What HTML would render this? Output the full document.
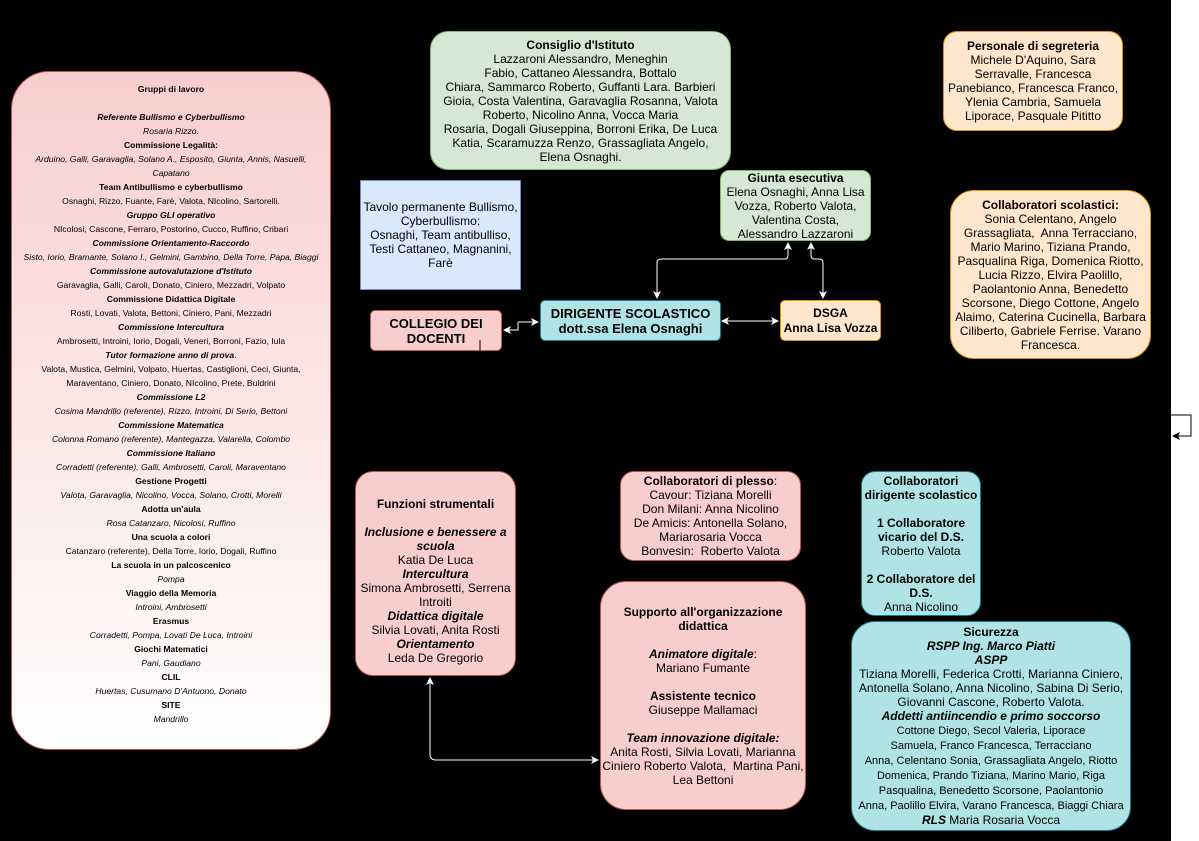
<!DOCTYPE html>
<html><head><meta charset="utf-8">
<style>
html,body{margin:0;padding:0}
body{width:1199px;height:841px;position:relative;background:#fff;overflow:hidden;font-family:"Liberation Sans",Arial,sans-serif;color:#000}
#bg{position:absolute;left:0;top:0;width:1171px;height:841px;background:#000}
.b{position:absolute;box-sizing:border-box;display:flex;align-items:center;justify-content:center;text-align:center;font-size:12px;line-height:14px}
.red{background:#f8cecc;border:1px solid #b85450}
.grn{background:#d5e8d4;border:1px solid #82b366}
.blu{background:#dae8fc;border:1px solid #6c8ebf}
.cy{background:#b0e3e6;border:1px solid #0e8088}
.or{background:#ffe6cc;border:1px solid #d79b00}
#gl{position:absolute;left:11px;top:71px;width:320px;height:679px;border:1px solid #b85450;border-radius:38px;background:linear-gradient(#f8cecc,#fff);box-sizing:border-box;text-align:center;font-size:8.6px;line-height:14px;padding-top:10px}
svg{position:absolute;left:0;top:0}
</style></head><body>
<div id="bg"></div>

<div id="gl"><b>Gruppi di lavoro</b><br><br>
<b><i>Referente Bullismo e Cyberbullismo</i></b><br><i>Rosaria Rizzo.</i><br>
<b>Commissione Legalità:</b><br><i>Arduino, Galli, Garavaglia, Solano A., Esposito, Giunta, Annis, Nasuelli,<br>Capatano</i><br>
<b>Team Antibullismo e cyberbullismo</b><br>Osnaghi, Rizzo, Fuante, Farè, Valota, NIcolino, Sartorelli.<br>
<b><i>Gruppo GLI operativo</i></b><br>NIcolosi, Cascone, Ferraro, Postorino, Cucco, Ruffino, Cribari<br>
<b><i>Commissione Orientamento-Raccordo</i></b><br><i>Sisto, Iorio, Bramante, Solano I., Gelmini, Gambino, Della Torre, Papa, Biaggi</i><br>
<b><i>Commissione autovalutazione d'Istituto</i></b><br>Garavaglia, Galli, Caroli, Donato, Ciniero, Mezzadri, Volpato<br>
<b>Commissione Didattica Digitale</b><br>Rosti, Lovati, Valota, Bettoni, Ciniero, Pani, Mezzadri<br>
<b><i>Commissione Intercultura</i></b><br>Ambrosetti, Introini, Iorio, Dogali, Veneri, Borroni, Fazio, Iula<br>
<b><i>Tutor formazione anno di prova</i></b>.<br>Valota, Mustica, Gelmini, Volpato, Huertas, Castiglioni, Ceci, Giunta,<br>Maraventano, Ciniero, Donato, NIcolino, Prete, Buldrini<br>
<b><i>Commissione L2</i></b><br><i>Cosima Mandrillo (referente), Rizzo, Introini, Di Serio, Bettoni</i><br>
<b><i>Commissione Matematica</i></b><br><i>Colonna Romano (referente), Mantegazza, Valarella, Colombo</i><br>
<b><i>Commissione Italiano</i></b><br><i>Corradetti (referente), Galli, Ambrosetti, Caroli, Maraventano</i><br>
<b>Gestione Progetti</b><br><i>Valota, Garavaglia, Nicolino, Vocca, Solano, Crotti, Morelli</i><br>
<b>Adotta un'aula</b><br><i>Rosa Catanzaro, Nicolosi, Ruffino</i><br>
<b>Una scuola a colori</b><br>Catanzaro (referente), Della Torre, Iorio, Dogali, Ruffino<br>
<b>La scuola in un palcoscenico</b><br><i>Pompa</i><br>
<b>Viaggio della Memoria</b><br><i>Introini, Ambrosetti</i><br>
<b>Erasmus</b><br><i>Corradetti, Pompa, Lovati De Luca, Introini</i><br>
<b>Giochi Matematici</b><br><i>Pani, Gaudiano</i><br>
<b>CLIL</b><br><i>Huertas, Cusumano D'Antuono, Donato</i><br>
<b>SITE</b><br><i>Mandrillo</i>
</div>

<div class="b grn" style="left:430px;top:31px;width:301px;height:139px;border-radius:18px"><div><b>Consiglio d'Istituto</b><br>Lazzaroni Alessandro, Meneghin<br>Fabio, Cattaneo Alessandra, Bottalo<br>Chiara, Sammarco Roberto, Guffanti Lara. Barbieri<br>Gioia, Costa Valentina, Garavaglia Rosanna, Valota<br>Roberto, Nicolino Anna, Vocca Maria<br>Rosaria, Dogali Giuseppina, Borroni Erika, De Luca<br>Katia, Scaramuzza Renzo, Grassagliata Angelo,<br>Elena Osnaghi.</div></div>

<div class="b or" style="left:943px;top:31px;width:180px;height:100px;border-radius:14px"><div><b>Personale di segreteria</b><br>Michele D'Aquino, Sara<br>Serravalle, Francesca<br>Panebianco, Francesca Franco,<br>Ylenia Cambria, Samuela<br>Liporace, Pasquale Pititto</div></div>

<div class="b grn" style="left:720px;top:170px;width:151px;height:71px;border-radius:9px"><div><b>Giunta esecutiva</b><br>Elena Osnaghi, Anna Lisa<br>Vozza, Roberto Valota,<br>Valentina Costa,<br>Alessandro Lazzaroni</div></div>

<div class="b blu" style="left:360px;top:180px;width:161px;height:110px"><div>Tavolo permanente Bullismo,<br>Cyberbullismo:<br>Osnaghi, Team antibulliso,<br>Testi Cattaneo, Magnanini,<br>Farè</div></div>

<div class="b or" style="left:950px;top:190px;width:201px;height:169px;border-radius:24px"><div><b>Collaboratori scolastici:</b><br>Sonia Celentano, Angelo<br>Grassagliata,&nbsp; Anna Terracciano,<br>Mario Marino, Tiziana Prando,<br>Pasqualina Riga, Domenica Riotto,<br>Lucia Rizzo, Elvira Paolillo,<br>Paolantonio Anna, Benedetto<br>Scorsone, Diego Cottone, Angelo<br>Alaimo, Caterina Cucinella, Barbara<br>Ciliberto, Gabriele Ferrise. Varano<br>Francesca.</div></div>

<div class="b red" style="left:370px;top:310px;width:132px;height:41px;border-radius:5px;font-size:13px;line-height:15px;font-weight:bold"><div>COLLEGIO DEI<br>DOCENTI</div></div>
<div class="b cy" style="left:540px;top:300px;width:181px;height:41px;border-radius:5px;font-size:13px;line-height:15px;font-weight:bold"><div>DIRIGENTE SCOLASTICO<br>dott.ssa Elena Osnaghi</div></div>
<div class="b or" style="left:780px;top:300px;width:101px;height:41px;border-radius:5px;font-size:12px;line-height:15px;font-weight:bold;white-space:nowrap"><div>DSGA<br>Anna Lisa Vozza</div></div>

<div class="b red" style="left:355px;top:471px;width:161px;height:205px;border-radius:18px;padding-top:14px"><div><b>Funzioni strumentali</b><br><br><b><i>Inclusione e benessere a<br>scuola</i></b><br>Katia De Luca<br><b><i>Intercultura</i></b><br>Simona Ambrosetti, Serrena<br>Introiti<br><b><i>Didattica digitale</i></b><br>Silvia Lovati, Anita Rosti<br><b><i>Orientamento</i></b><br>Leda De Gregorio</div></div>

<div class="b red" style="left:620px;top:471px;width:181px;height:90px;border-radius:14px"><div><b>Collaboratori di plesso</b>:<br>Cavour: Tiziana Morelli<br>Don Milani: Anna Nicolino<br>De Amicis: Antonella Solano,<br>Mariarosaria Vocca<br>Bonvesin:&nbsp; Roberto Valota</div></div>

<div class="b red" style="left:600px;top:581px;width:206px;height:229px;border-radius:26px"><div><b>Supporto all'organizzazione<br>didattica</b><br><br><b><i>Animatore digitale</i></b>:<br>Mariano Fumante<br><br><b>Assistente tecnico</b><br>Giuseppe Mallamaci<br><br><b><i>Team innovazione digitale:</i></b><br>Anita Rosti, Silvia Lovati, Marianna<br>Ciniero Roberto Valota,&nbsp; Martina Pani,<br>Lea Bettoni</div></div>

<div class="b cy" style="left:861px;top:471px;width:120px;height:145px;border-radius:14px"><div><b>Collaboratori<br>dirigente scolastico</b><br><br><b>1 Collaboratore<br>vicario del D.S.</b><br>Roberto Valota<br><br><b>2 Collaboratore del<br>D.S.</b><br>Anna Nicolino</div></div>

<div class="b cy" style="left:851px;top:621px;width:280px;height:210px;border-radius:24px"><div><b>Sicurezza</b><br><b><i>RSPP Ing. Marco Piatti</i></b><br><b><i>ASPP</i></b><br>Tiziana Morelli, Federica Crotti, Marianna Ciniero,<br>Antonella Solano, Anna Nicolino, Sabina Di Serio,<br>Giovanni Cascone, Roberto Valota.<br><b><i>Addetti antiincendio e primo soccorso</i></b><br><span style="font-size:11px">Cottone Diego, Secol Valeria, Liporace<br>Samuela, Franco Francesca, Terracciano<br>Anna, Celentano Sonia, Grassagliata Angelo, Riotto<br>Domenica, Prando Tiziana, Marino Mario, Riga<br>Pasqualina, Benedetto Scorsone, Paolantonio<br>Anna, Paolillo Elvira, Varano Francesca, Biaggi Chiara</span><br><b><i>RLS</i></b> Maria Rosaria Vocca</div></div>

<svg width="1199" height="841">
<defs>
<marker id="a" markerWidth="8" markerHeight="8" refX="7" refY="4" orient="auto" markerUnits="userSpaceOnUse"><path d="M0,0 L8,4 L0,8 L2,4z" fill="#fff"/></marker>
<marker id="k" markerWidth="8" markerHeight="8" refX="7" refY="4" orient="auto" markerUnits="userSpaceOnUse"><path d="M0,0 L8,4 L0,8 L2,4z" fill="#000"/></marker>
</defs>
<g stroke="#fff" stroke-width="1" fill="none">
<path d="M657,262 L657,298" marker-end="url(#a)"/>
<path d="M657,262 Q657,259 662,259 L785,259 Q788,259 788,255 L788,243" marker-end="url(#a)"/>
<path d="M823,298 L823,263 Q823,259 819,259 L814,259 Q811,259 811,255 L811,243" marker-end="url(#a)"/>
<path d="M823,290 L823,298" marker-end="url(#a)"/>
<path d="M730,321 L722,321" marker-end="url(#a)"/>
<path d="M725,321 L778,321" marker-end="url(#a)"/>
<path d="M518,322 L538,322" marker-end="url(#a)"/>
<path d="M518,322 L518,330 L504,330" marker-end="url(#a)"/>
<path d="M430,700 L430,678" marker-end="url(#a)"/>
<path d="M430,700 L430,754 Q430,760 436,760 L598,760" marker-end="url(#a)"/>
</g>
<path d="M480,340 L480,351" stroke="#000" stroke-width="1"/>
<path d="M1171,415 L1191,415 L1191,436 L1173,436" stroke="#000" fill="none" stroke-width="1" marker-end="url(#k)"/>
</svg>
</body></html>
